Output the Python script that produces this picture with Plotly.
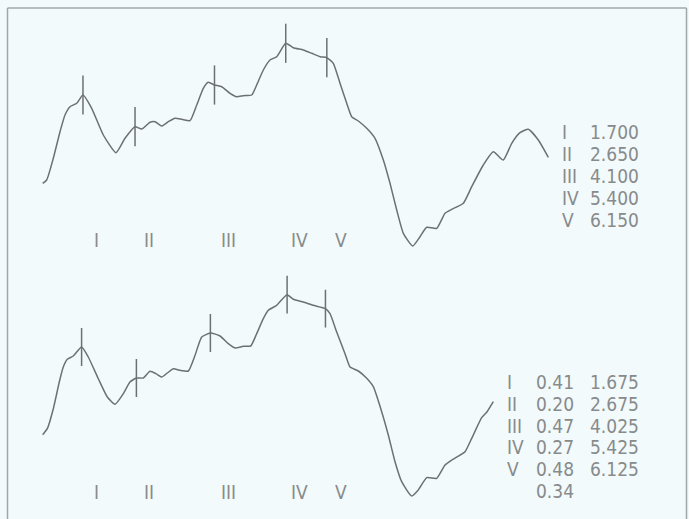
import plotly.graph_objects as go

# ---------------- data (latency in ms, amplitude in µV) ----------------
top_ms = [0.965, 1.038, 1.159, 1.281, 1.372, 1.464, 1.586, 1.70, 1.859, 2.071,
          2.303, 2.467, 2.65, 2.772, 2.923, 3.015, 3.137, 3.257, 3.380, 3.502,
          3.653, 3.776, 3.896, 3.987, 4.10, 4.232, 4.383, 4.505, 4.626, 4.779,
          4.870, 4.991, 5.113, 5.235, 5.40, 5.538, 5.721, 5.874, 6.026, 6.15,
          6.268, 6.391, 6.513, 6.604, 6.725, 6.878, 7.029, 7.181, 7.303, 7.425,
          7.546, 7.717, 7.850, 7.973, 8.155, 8.307, 8.429, 8.641, 8.794, 9.005,
          9.188, 9.370, 9.524, 9.675, 9.827, 10.009, 10.192]
top_amp = [-0.333, -0.30, -0.083, 0.183, 0.35, 0.433, 0.467, 0.55, 0.417, 0.15,
           -0.027, 0.117, 0.233, 0.21, 0.277, 0.283, 0.24, 0.283, 0.317, 0.307,
           0.293, 0.45, 0.617, 0.677, 0.65, 0.633, 0.567, 0.533, 0.543, 0.55,
           0.65, 0.80, 0.90, 0.933, 1.067, 1.023, 1.00, 0.967, 0.933, 0.923,
           0.867, 0.667, 0.467, 0.333, 0.29, 0.217, 0.117, -0.10, -0.333, -0.60,
           -0.833, -0.96, -0.867, -0.773, -0.783, -0.633, -0.593, -0.533, -0.367, -0.15,
           -0.017, -0.10, 0.067, 0.173, 0.207, 0.10, -0.073]

bot_ms = [0.965, 1.049, 1.159, 1.268, 1.341, 1.414, 1.524, 1.675, 1.797, 1.980,
          2.144, 2.285, 2.436, 2.558, 2.675, 2.801, 2.923, 3.033, 3.137, 3.239,
          3.349, 3.471, 3.622, 3.745, 3.867, 4.025, 4.201, 4.352, 4.474, 4.626,
          4.761, 4.870, 4.991, 5.082, 5.235, 5.425, 5.538, 5.721, 5.903, 6.125,
          6.208, 6.330, 6.482, 6.573, 6.725, 6.878, 6.998, 7.151, 7.272, 7.394,
          7.516, 7.699, 7.819, 7.973, 8.155, 8.307, 8.429, 8.672, 8.794, 8.976,
          9.068, 9.188]
bot_amp = [-0.247, -0.187, 0.013, 0.28, 0.43, 0.507, 0.54, 0.63, 0.53, 0.313,
           0.13, 0.057, 0.163, 0.28, 0.32, 0.32, 0.387, 0.363, 0.33, 0.37,
           0.413, 0.397, 0.39, 0.547, 0.73, 0.77, 0.74, 0.663, 0.62, 0.637,
           0.64, 0.763, 0.913, 0.997, 1.047, 1.153, 1.107, 1.08, 1.047, 1.013,
           0.963, 0.78, 0.563, 0.43, 0.39, 0.317, 0.233, -0.017, -0.25, -0.517,
           -0.717, -0.86, -0.80, -0.677, -0.683, -0.55, -0.50, -0.417, -0.283, -0.077,
           -0.023, 0.083]

waves = ["I", "II", "III", "IV", "V"]
top_lat = [1.700, 2.650, 4.100, 5.400, 6.150]
top_peak_amp = [0.55, 0.233, 0.65, 1.067, 0.923]
bot_lat = [1.675, 2.675, 4.025, 5.425, 6.125]
bot_peak_amp = [0.63, 0.32, 0.77, 1.153, 1.013]
bot_ampl = ["0.41", "0.20", "0.47", "0.27", "0.48", "0.34"]
top_lat_txt = ["1.700", "2.650", "4.100", "5.400", "6.150"]
bot_lat_txt = ["1.675", "2.675", "4.025", "5.425", "6.125"]

# ---------------- figure ----------------
W, H = 689, 519
LINE = "#6c7070"
TXT = "#878b8b"
FONT = "DejaVu Sans Condensed, Liberation Sans Narrow, Arial Narrow, Liberation Sans, sans-serif"
FS = 19

def px(x):
    return x / W

def py(y):
    return 1 - y / H

fig = go.Figure()
fig.add_trace(go.Scatter(x=top_ms, y=top_amp, mode="lines", xaxis="x", yaxis="y",
                         line=dict(color=LINE, width=1.5, shape="spline", smoothing=0.5),
                         hoverinfo="skip"))
fig.add_trace(go.Scatter(x=bot_ms, y=bot_amp, mode="lines", xaxis="x", yaxis="y2",
                         line=dict(color=LINE, width=1.5, shape="spline", smoothing=0.5),
                         hoverinfo="skip"))
fig.add_trace(go.Scatter(x=top_lat, y=top_peak_amp, mode="markers", xaxis="x", yaxis="y",
                         marker=dict(symbol="line-ns", size=28,
                                     line=dict(color=LINE, width=1.5)),
                         hoverinfo="skip"))
fig.add_trace(go.Scatter(x=bot_lat, y=bot_peak_amp, mode="markers", xaxis="x", yaxis="y2",
                         marker=dict(symbol="line-ns", size=27,
                                     line=dict(color=LINE, width=1.5)),
                         hoverinfo="skip"))

ann = []
font = dict(family=FONT, size=FS, color=TXT)
# roman labels under each waveform (placed a little to the right of each top latency)
for w, lat in zip(waves, top_lat):
    for yy in (240, 492):
        ann.append(dict(x=lat, xref="x", xshift=14, y=py(yy), yref="paper",
                        text=w, showarrow=False, xanchor="center", yanchor="middle",
                        font=font))

# top legend
top_rows = [132, 154, 176, 198, 220]
for w, t, yy in zip(waves, top_lat_txt, top_rows):
    ann.append(dict(x=px(560), y=py(yy), xref="paper", yref="paper", text=w,
                    showarrow=False, xanchor="left", yanchor="middle", font=font))
    ann.append(dict(x=px(641), y=py(yy), xref="paper", yref="paper", text=t,
                    showarrow=False, xanchor="right", yanchor="middle", font=font))

# bottom legend
bot_rows = [382, 404, 426, 447, 469, 491]
for i, yy in enumerate(bot_rows):
    if i < len(waves):
        ann.append(dict(x=px(505), y=py(yy), xref="paper", yref="paper", text=waves[i],
                        showarrow=False, xanchor="left", yanchor="middle", font=font))
        ann.append(dict(x=px(641), y=py(yy), xref="paper", yref="paper", text=bot_lat_txt[i],
                        showarrow=False, xanchor="right", yanchor="middle", font=font))
    ann.append(dict(x=px(576), y=py(yy), xref="paper", yref="paper", text=bot_ampl[i],
                    showarrow=False, xanchor="right", yanchor="middle", font=font))

shapes = [
    dict(type="line", xref="paper", yref="paper", x0=px(7.5), x1=px(686.5),
         y0=py(8), y1=py(8), line=dict(color="#a2a8a8", width=1.5)),
    dict(type="line", xref="paper", yref="paper", x0=px(7.5), x1=px(7.5),
         y0=py(8), y1=py(519), line=dict(color="#a2a8a8", width=1.5)),
    dict(type="line", xref="paper", yref="paper", x0=px(686.5), x1=px(686.5),
         y0=py(8), y1=py(519), line=dict(color="#a2a8a8", width=1.5)),
]

ax_common = dict(visible=False, showgrid=False, zeroline=False, fixedrange=True)
fig.update_layout(
    width=W, height=H,
    margin=dict(l=0, r=0, t=0, b=0),
    paper_bgcolor="#f3fafc", plot_bgcolor="#f3fafc",
    showlegend=False,
    xaxis=dict(range=[0.186, 12.759], domain=[0, 1], **ax_common),
    yaxis=dict(range=[-1.095, 1.5], domain=[0.5, 1], **ax_common),
    yaxis2=dict(range=[-1.09, 1.505], domain=[0, 0.5], **ax_common),
    annotations=ann,
    shapes=shapes,
)

fig.write_html("out.html")
